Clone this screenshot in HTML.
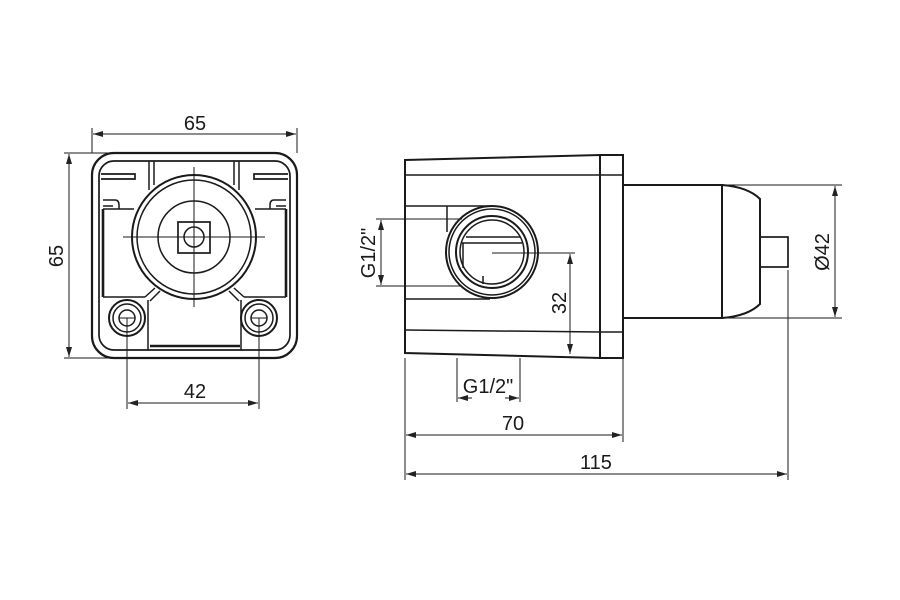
<!DOCTYPE html>
<html><head><meta charset="utf-8"><style>
html,body{margin:0;padding:0;background:#fff}
svg{display:block}
text{font-family:"Liberation Sans",sans-serif;font-size:20px;fill:#1a1a1a}
</style></head><body>
<svg width="900" height="600" viewBox="0 0 900 600" xmlns="http://www.w3.org/2000/svg">
<defs>
<marker id="a" viewBox="0 0 10 6" refX="10" refY="3" markerWidth="10" markerHeight="6" orient="auto-start-reverse" markerUnits="userSpaceOnUse"><path d="M0,0 L10,3 L0,6 z" fill="#222"/></marker>
</defs>
<g fill="none" stroke="#1a1a1a" stroke-width="1.5">
<!-- LEFT VIEW -->
<rect x="92" y="153" width="205" height="205" rx="22" stroke-width="2.2"/>
<rect x="99" y="161" width="191" height="189" rx="15" stroke-width="1.7"/>
<line x1="149" y1="161" x2="149" y2="190"/><line x1="154" y1="161" x2="154" y2="185"/>
<line x1="239" y1="161" x2="239" y2="190"/><line x1="234" y1="161" x2="234" y2="185"/>
<path d="M101,174 H135 V179 H101" stroke-width="1.7"/>
<path d="M288,174 H254 V179 H288" stroke-width="1.7"/>
<path d="M103,200 H115 Q119,200 119,205 V209 M103,206 H113"/>
<path d="M286,200 H274 Q270,200 270,205 V209 M286,206 H276"/>
<line x1="103" y1="209" x2="134" y2="209"/><line x1="255" y1="209" x2="286" y2="209"/>
<line x1="103" y1="209" x2="103" y2="297" stroke-width="2.6"/>
<line x1="286" y1="209" x2="286" y2="297" stroke-width="2.6"/>
<line x1="103" y1="297" x2="145" y2="297"/><line x1="244" y1="297" x2="286" y2="297"/>
<path d="M145,297 L155,288 M150,301 L160,291"/>
<path d="M244,297 L234,288 M239,301 L229,291"/>
<line x1="148" y1="300" x2="148" y2="350"/><line x1="241" y1="300" x2="241" y2="350"/>
<line x1="150" y1="346" x2="240" y2="346" stroke-width="2.4"/>
<circle cx="194" cy="237" r="62" stroke-width="2"/>
<circle cx="194" cy="237" r="57"/>
<circle cx="194" cy="237" r="36"/>
<rect x="178" y="222" width="32" height="31" stroke-width="1.7"/>
<circle cx="194" cy="237" r="10"/>
<line x1="123" y1="237" x2="265" y2="237" stroke-width="1"/>
<line x1="194" y1="167" x2="194" y2="307" stroke-width="1"/>
<circle cx="127" cy="318" r="18" stroke-width="2"/><circle cx="127" cy="318" r="14"/><circle cx="127" cy="318" r="8"/>
<line x1="119" y1="318" x2="135" y2="318" stroke-width="1"/>
<circle cx="259" cy="318" r="18" stroke-width="2"/><circle cx="259" cy="318" r="14"/><circle cx="259" cy="318" r="8"/>
<line x1="251" y1="318" x2="267" y2="318" stroke-width="1"/>
<g stroke-width="1">
<line x1="92" y1="128" x2="92" y2="153"/><line x1="297" y1="128" x2="297" y2="153"/>
<line x1="93" y1="134" x2="296" y2="134" marker-start="url(#a)" marker-end="url(#a)"/>
<line x1="64" y1="153" x2="110" y2="153"/><line x1="64" y1="358" x2="110" y2="358"/>
<line x1="69" y1="154" x2="69" y2="357" marker-start="url(#a)" marker-end="url(#a)"/>
<line x1="127" y1="318" x2="127" y2="409"/><line x1="259" y1="318" x2="259" y2="409"/>
<line x1="128" y1="403" x2="258" y2="403" marker-start="url(#a)" marker-end="url(#a)"/>
</g>
<!-- RIGHT VIEW -->
<path d="M405,160 L600,155 L600,358 L405,353 Z" stroke-width="2"/>
<line x1="405" y1="175" x2="600" y2="175"/>
<line x1="405" y1="330" x2="600" y2="332"/>
<rect x="600" y="155" width="23" height="203" stroke-width="2"/>
<line x1="600" y1="175" x2="623" y2="175"/><line x1="600" y1="332" x2="623" y2="332"/>
<rect x="623" y="185" width="99" height="133" stroke-width="2"/>
<path d="M722,185 Q748,187 760,199 L760,304 Q748,316 722,318" stroke-width="2"/>
<rect x="760" y="237" width="28" height="30" stroke-width="1.7"/>
<line x1="405" y1="206" x2="490" y2="206"/>
<line x1="405" y1="299" x2="490" y2="299"/>
<line x1="447" y1="206" x2="447" y2="232"/>
<circle cx="492" cy="252" r="46" stroke-width="2"/>
<circle cx="492" cy="252" r="43"/>
<circle cx="492" cy="252" r="36" stroke-width="2"/>
<circle cx="492" cy="252" r="32"/>
<line x1="466" y1="237" x2="520" y2="237"/><line x1="462" y1="243" x2="522" y2="243"/>
<line x1="463" y1="243" x2="463" y2="268"/>
<line x1="483" y1="276" x2="483" y2="284"/>
<g stroke-width="1">
<line x1="376" y1="219" x2="462" y2="219"/><line x1="376" y1="286" x2="462" y2="286"/>
<line x1="381" y1="220" x2="381" y2="285" marker-start="url(#a)" marker-end="url(#a)"/>
<line x1="492" y1="253" x2="575" y2="253"/>
<line x1="570" y1="254" x2="570" y2="354" marker-start="url(#a)" marker-end="url(#a)"/>
<line x1="457" y1="358" x2="457" y2="402"/><line x1="520" y1="358" x2="520" y2="402"/>
<line x1="458" y1="398" x2="472" y2="398" marker-start="url(#a)"/><line x1="505" y1="398" x2="519" y2="398" marker-end="url(#a)"/>
<line x1="405" y1="358" x2="405" y2="480"/><line x1="623" y1="358" x2="623" y2="442"/>
<line x1="788" y1="270" x2="788" y2="480"/>
<line x1="406" y1="435" x2="622" y2="435" marker-start="url(#a)" marker-end="url(#a)"/>
<line x1="406" y1="474" x2="787" y2="474" marker-start="url(#a)" marker-end="url(#a)"/>
<line x1="722" y1="185" x2="842" y2="185"/><line x1="722" y1="318" x2="842" y2="318"/>
<line x1="835" y1="186" x2="835" y2="317" marker-start="url(#a)" marker-end="url(#a)"/>
</g>
</g>
<text x="195" y="130" text-anchor="middle">65</text>
<text x="195" y="398" text-anchor="middle">42</text>
<text transform="translate(63,256) rotate(-90)" text-anchor="middle">65</text>
<text transform="translate(375,253) rotate(-90)" text-anchor="middle">G1/2"</text>
<text transform="translate(566,303) rotate(-90)" text-anchor="middle">32</text>
<text transform="translate(829,252) rotate(-90)" text-anchor="middle">Ø42</text>
<text x="488" y="393" text-anchor="middle">G1/2"</text>
<text x="513" y="430" text-anchor="middle">70</text>
<text x="596" y="469" text-anchor="middle">115</text>
</svg>
</body></html>
